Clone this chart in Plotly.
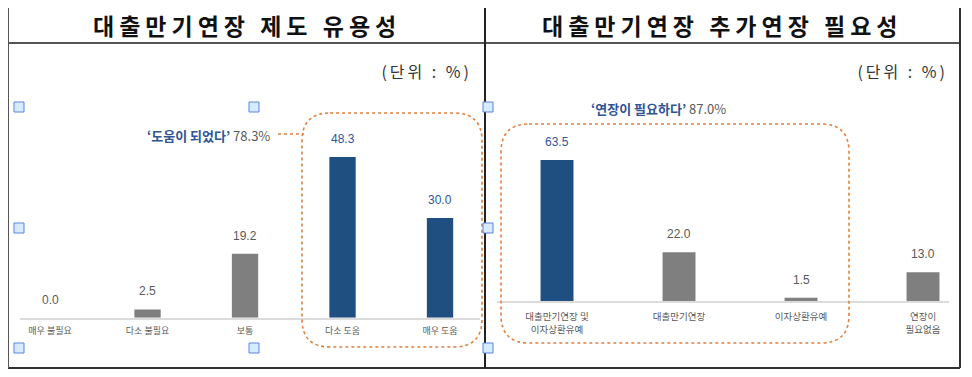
import plotly.graph_objects as go

W, H = 972, 377

# ---------------- data ----------------
left_title = "대출만기연장 제도 유용성"
right_title = "대출만기연장 추가연장 필요성"
unit_label = "(단위 : %)"

left_categories = ["매우 불필요", "다소 불필요", "보통", "다소 도움", "매우 도움"]
left_values = [0.0, 2.5, 19.2, 48.3, 30.0]
left_highlight = [False, False, False, True, True]
left_callout_label = "‘도움이 되었다’"
left_callout_value = "78.3%"

right_categories = ["대출만기연장 및<br>이자상환유예", "대출만기연장", "이자상환유예", "연장이<br>필요없음"]
right_values = [63.5, 22.0, 1.5, 13.0]
right_highlight = [True, False, False, False]
right_callout_label = "‘연장이 필요하다’"
right_callout_value = "87.0%"

# ---------------- styles ----------------
BLUE = "#1F4E80"
BLUE_TXT = "#2F5597"
GRAY = "#7F7F7F"
GRAY_TXT = "#595959"
ORANGE = "#E2803E"
KFONT = "Noto Sans CJK KR, Liberation Sans, sans-serif"
NFONT = "Liberation Sans, Noto Sans CJK KR, sans-serif"

OFF = 8  # page body margin


def px(x):
    return (x - OFF) / W


def py(y):
    return 1 - (y - OFF) / H


fig = go.Figure()

fig.add_trace(go.Bar(
    x=left_categories, y=left_values,
    marker=dict(color=[BLUE if h else GRAY for h in left_highlight], line=dict(width=0)),
    width=0.27, xaxis="x", yaxis="y", hoverinfo="skip", showlegend=False,
))
fig.add_trace(go.Bar(
    x=right_categories, y=right_values,
    marker=dict(color=[BLUE if h else GRAY for h in right_highlight], line=dict(width=0)),
    width=0.27, xaxis="x2", yaxis="y2", hoverinfo="skip", showlegend=False,
))

annotations = []
for cats, vals, hl, xr, yr in [(left_categories, left_values, left_highlight, "x", "y"),
                               (right_categories, right_values, right_highlight, "x2", "y2")]:
    for c, v, h in zip(cats, vals, hl):
        annotations.append(dict(
            x=c, y=v, xref=xr, yref=yr, text=f"{v:.1f}", showarrow=False,
            yanchor="middle", yshift=18,
            font=dict(family=NFONT, size=12, color=BLUE_TXT if h else GRAY_TXT),
        ))

# titles
for tx, title in ((246.5, left_title), (722, right_title)):
    annotations.append(dict(x=px(tx), y=py(25), xref="paper", yref="paper", showarrow=False,
                            text=f"<b><span style='letter-spacing:5px'>{title}</span></b>",
                            xanchor="center", yanchor="middle", borderpad=0,
                            font=dict(family=KFONT, size=23, color="#111111")))
# unit labels
for xr in (474, 950):
    annotations.append(dict(x=px(xr), y=py(71), xref="paper", yref="paper", showarrow=False,
                            text=f"<span style='letter-spacing:3px'>{unit_label}</span>",
                            xanchor="right", yanchor="middle", width=110, align="right",
                            font=dict(family=KFONT, size=16, color="#333333")))
# callouts
annotations.append(dict(
    x=px(272), y=py(135), xref="paper", yref="paper", showarrow=False,
    xanchor="right", yanchor="middle",
    text=f"<b><span style='color:{BLUE_TXT}'>{left_callout_label}</span></b> "
         f"<span style='color:{GRAY_TXT}'>{left_callout_value}</span>",
    font=dict(family=KFONT, size=13)))
annotations.append(dict(
    x=px(589), y=py(108), xref="paper", yref="paper", showarrow=False,
    xanchor="left", yanchor="middle",
    text=f"<b><span style='color:{BLUE_TXT}'>{right_callout_label}</span></b> "
         f"<span style='color:{GRAY_TXT}'>{right_callout_value}</span>",
    font=dict(family=KFONT, size=13)))


def rounded_rect(x0, y0, x1, y1, r):
    pts = [
        ("M", [(x0 + r, y0)]),
        ("L", [(x1 - r, y0)]),
        ("Q", [(x1, y0), (x1, y0 + r)]),
        ("L", [(x1, y1 - r)]),
        ("Q", [(x1, y1), (x1 - r, y1)]),
        ("L", [(x0 + r, y1)]),
        ("Q", [(x0, y1), (x0, y1 - r)]),
        ("L", [(x0, y0 + r)]),
        ("Q", [(x0, y0), (x0 + r, y0)]),
    ]
    s = ""
    for cmd, ps in pts:
        s += cmd + " " + " ".join(f"{px(a):.5f},{py(b):.5f}" for a, b in ps) + " "
    return s + "Z"


shapes = []
dot = dict(color=ORANGE, width=1.6, dash="dot")
shapes.append(dict(type="path", path=rounded_rect(302, 113, 482, 347, 28),
                   xref="paper", yref="paper", line=dot))
shapes.append(dict(type="line", x0=px(278), x1=px(304), y0=py(134), y1=py(134),
                   xref="paper", yref="paper", line=dot))
shapes.append(dict(type="path", path=rounded_rect(501, 124, 849, 343, 28),
                   xref="paper", yref="paper", line=dot))

# table borders
for (x0, y0, x1, y1, c) in [
    (8, 5, 960, 5, "#666666"),
    (8, 43, 960, 43, "#555555"),
    (8, 368, 960, 368, "#333333"),
    (8, 5, 8, 368, "#555555"),
    (960, 5, 960, 368, "#333333"),
    (485, 5, 485, 368, "#222222"),
]:
    shapes.append(dict(type="line", x0=px(x0), x1=px(x1), y0=py(y0), y1=py(y1),
                       xref="paper", yref="paper", line=dict(color=c, width=2)))

# selection handles
for (cx, cy) in [(19, 107), (254, 107), (488, 107), (19, 228), (488, 228),
                 (19, 348), (254, 348), (488, 348)]:
    shapes.append(dict(type="rect", x0=px(cx - 5), x1=px(cx + 5), y0=py(cy - 5), y1=py(cy + 5),
                       xref="paper", yref="paper", fillcolor="#d4ecfc",
                       line=dict(color="#5f83dd", width=1)))

left_scale = 160.7 / 48.3
right_scale = 141.0 / 63.5
LB, RB = 317.7, 301.0
LTOP = 60
RTOP = 70

xcommon = dict(type="category", showgrid=False, zeroline=False, showline=True,
               linecolor="#dcdcdc", linewidth=2, ticks="", fixedrange=True)
ycommon = dict(showgrid=False, zeroline=False, showline=False, showticklabels=False,
               fixedrange=True)

fig.update_layout(
    width=W, height=H, autosize=False,
    margin=dict(l=0, r=0, t=0, b=0),
    paper_bgcolor="white", plot_bgcolor="white",
    font=dict(family=KFONT),
    showlegend=False,
    xaxis=dict(**xcommon, domain=[px(20), px(480)], range=[-0.308, 4.41], anchor="y",
               ticklabelstandoff=3,
               tickfont=dict(family=KFONT, size=9, color=GRAY_TXT)),
    yaxis=dict(**ycommon, domain=[py(LB), py(LB - LTOP * left_scale)], range=[0, LTOP], anchor="x"),
    xaxis2=dict(**xcommon, domain=[px(497), px(949)], range=[-0.492, 3.213], anchor="y2",
                ticklabelstandoff=6,
                tickfont=dict(family=KFONT, size=9.5, color=GRAY_TXT)),
    yaxis2=dict(**ycommon, domain=[py(RB), py(RB - RTOP * right_scale)], range=[0, RTOP], anchor="x2"),
    annotations=annotations,
    shapes=shapes,
)

fig.write_html("out.html")
